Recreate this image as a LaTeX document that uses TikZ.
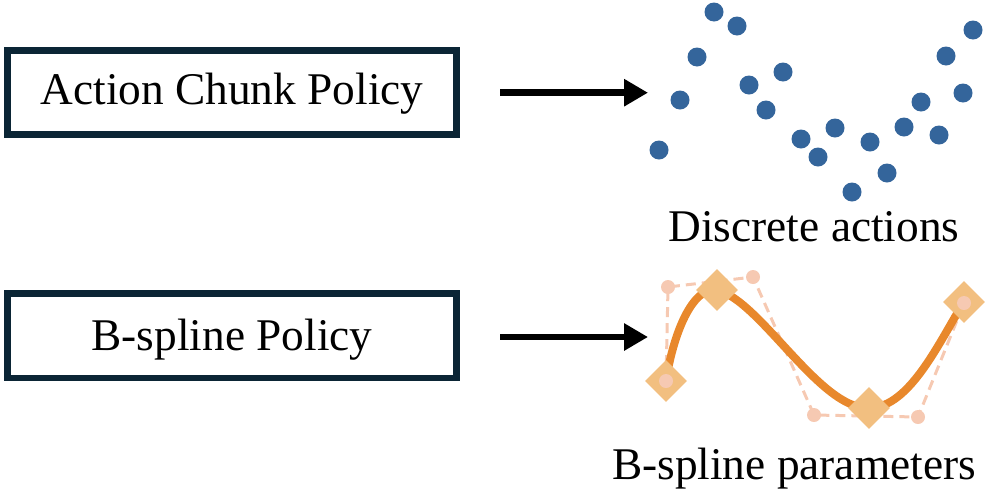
\documentclass[tikz,border=0pt]{standalone}
\usepackage{fontspec}
\setmainfont{Liberation Serif}
\usepackage{tikz}
\usetikzlibrary{positioning,arrows.meta,shapes.geometric}

\definecolor{boxnavy}{HTML}{0B2535}
\definecolor{dotblue}{HTML}{34659B}
\definecolor{splineorange}{HTML}{E8882C}
\definecolor{knotgold}{HTML}{F2BF80}
\definecolor{ctrlpink}{HTML}{F6C9B2}

\tikzset{
	policy/.style={draw=boxnavy, line width=0.13cm, minimum width=8.99cm, minimum height=1.69cm, inner sep=0pt, text depth=0.2cm, text height=0.68cm, font=\fontsize{25.8}{30}\selectfont},
	caption/.style={inner sep=0pt, anchor=base, font=\fontsize{25.8}{30}\selectfont},
	feed/.style={line width=0.13cm, -{Triangle[length=0.48cm, width=0.52cm]}},
	dot/.style={circle, fill=dotblue, minimum size=0.38cm, inner sep=0pt},
	knot/.style={diamond, fill=knotgold, minimum size=0.84cm, inner sep=0pt},
	ctrl/.style={circle, fill=ctrlpink, minimum size=0.28cm, inner sep=0pt},
	hull/.style={draw=ctrlpink, line width=0.06cm, dash pattern=on 0.2cm off 0.12cm},
	curve/.style={draw=splineorange, line width=0.16cm, line cap=round}
}

\begin{document}
\begin{tikzpicture}[x=0.02cm, y=-0.02cm]
	\useasboundingbox (0,0) rectangle (993,498);

	% policies
	\node[policy] (chunk) at (232,92.5) {Action Chunk Policy};
	\node[policy, text height=0.8cm] (bspline) at (232,335.8) {B-spline Policy};
	\coordinate (chunkout) at (500,92.7);
	\coordinate (chunkin) at (648,92.7);
	\coordinate (bsplineout) at (500,337);
	\coordinate (bsplinein) at (648,337);
	\draw[feed] (chunkout) -- (chunkin);
	\draw[feed] (bsplineout) -- (bsplinein);

	% discrete actions
	\node[dot] (a1) at (659,150) {};
	\node[dot] (a2) at (680,100) {};
	\node[dot] (a3) at (697,57) {};
	\node[dot] (a4) at (714,12) {};
	\node[dot] (a5) at (737,26) {};
	\node[dot] (a6) at (749,85) {};
	\node[dot] (a7) at (766,110) {};
	\node[dot] (a8) at (783,72) {};
	\node[dot] (a9) at (801,139) {};
	\node[dot] (a10) at (818,157) {};
	\node[dot] (a11) at (835,128) {};
	\node[dot] (a12) at (852,192) {};
	\node[dot] (a13) at (870,142) {};
	\node[dot] (a14) at (887,173) {};
	\node[dot] (a15) at (904,127) {};
	\node[dot] (a16) at (921,102) {};
	\node[dot] (a17) at (939,135) {};
	\node[dot] (a18) at (946,56) {};
	\node[dot] (a19) at (963,93) {};
	\node[dot] (a20) at (973,30) {};
	\node[caption] (discrete) at (814,241.7) {Discrete actions};

	% b-spline: control polygon, curve, knots
	\coordinate (p0) at (666,381);
	\coordinate (p1) at (668,287);
	\coordinate (p2) at (753,277);
	\coordinate (p3) at (814,415);
	\coordinate (p4) at (918,417);
	\coordinate (p5) at (964,303);
	\draw[hull] (p0) -- (p1) -- (p2) -- (p3) -- (p4) -- (p5);
	\node[ctrl] (c1) at (p1) {};
	\node[ctrl] (c2) at (p2) {};
	\node[ctrl] (c3) at (p3) {};
	\node[ctrl] (c4) at (p4) {};
	\coordinate (k0) at (666,381);
	\coordinate (k1) at (717,290);
	\coordinate (k2) at (869,408);
	\coordinate (k3) at (964,302);
	\draw[curve] (k0) .. controls (673,335) and (692,286) .. (k1)
		.. controls (760,300) and (820,410) .. (k2)
		.. controls (910,408) and (940,340) .. (k3);
	\node[knot] (q0) at (k0) {};
	\node[knot] (q1) at (k1) {};
	\node[knot] (q2) at (k2) {};
	\node[knot] (q3) at (k3) {};
	\node[ctrl] (c0) at (p0) {};
	\node[ctrl] (c5) at (p5) {};
	\node[caption] (params) at (794,479.3) {B-spline parameters};
\end{tikzpicture}
\end{document}
